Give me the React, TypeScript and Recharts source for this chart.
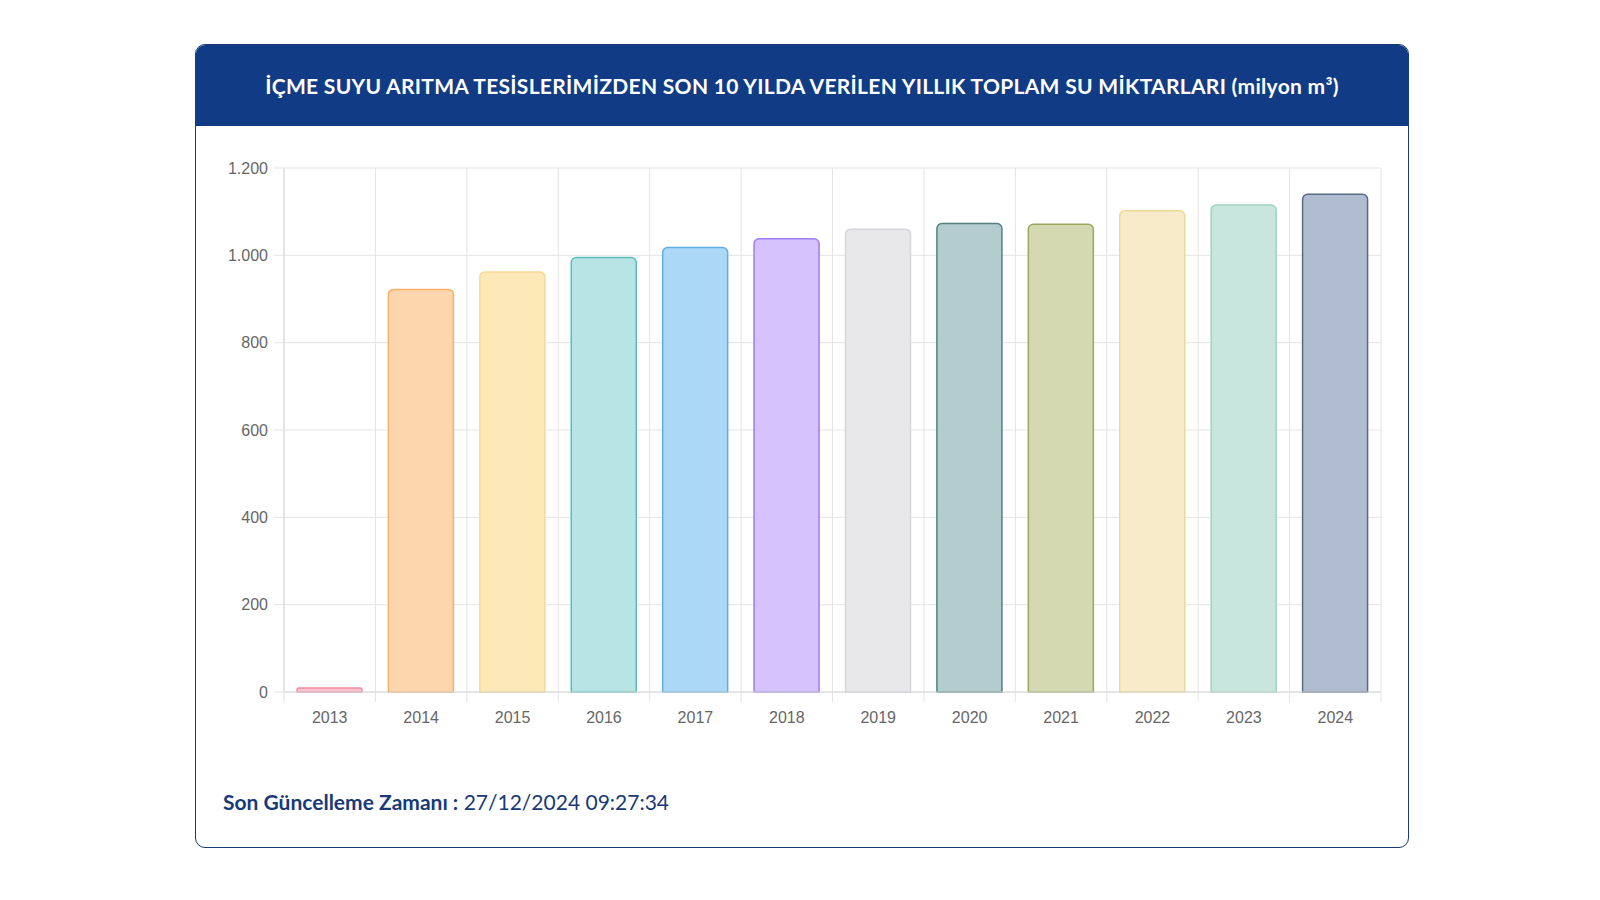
import { Bar, BarChart, CartesianGrid, Cell, XAxis, YAxis } from "recharts";

const YEARS = ["2013", "2014", "2015", "2016", "2017", "2018", "2019", "2020", "2021", "2022", "2023", "2024"];
const WATER = [9, 922, 962, 995, 1018, 1038, 1060, 1073, 1071, 1102, 1115, 1140];
const Y_TICKS = [0, 200, 400, 600, 800, 1000, 1200];
const FILLS = ["#f9c3cf", "#fdd6ad", "#fde8b8", "#b7e5e5", "#acd8f7", "#d6c2fc", "#e8e8ea", "#b3cccf", "#d4d9b1", "#f7ebc9", "#c9e6de", "#b0bdd0"];
const STROKES = ["#f08ca3", "#f5b06e", "#f6d893", "#5dbdbd", "#62acdf", "#a07cee", "#d6d6da", "#52807f", "#9aa85e", "#ecd998", "#9ed3c2", "#5b6b86"];

const TITLE = "İÇME SUYU ARITMA TESİSLERİMİZDEN SON 10 YILDA VERİLEN YILLIK TOPLAM SU MİKTARLARI (milyon m³)";
const UPDATED_LABEL = "Son Güncelleme Zamanı :";
const UPDATED_AT = "27/12/2024 09:27:34";

const data = YEARS.map((year, i) => ({ year, value: WATER[i] }));

const CHART_W = 1212;
const CHART_H = 640;
const MARGIN = { top: 42, right: 27, left: 0, bottom: 34 };
const Y_AXIS_W = 88;
const PLOT_W = CHART_W - MARGIN.left - MARGIN.right - Y_AXIS_W;
const STEP = PLOT_W / YEARS.length;
const GRID = "#e4e4e4";
const NAVY = "#173a78";
const TICK_SIZE = 10;
const TICK_MARGIN = 10;

function thousands(v: number) {
  if (v < 1000) return String(v);
  return `${Math.floor(v / 1000)}.${String(v % 1000).padStart(3, "0")}`;
}

// x tick: label plus a short gridline stub under the axis at the category edge (chart.js offset grid look)
function YearTick(props: any) {
  const { x, y, payload, index } = props;
  const top = y - TICK_SIZE - TICK_MARGIN;
  return (
    <g>
      <line x1={x - STEP / 2} x2={x - STEP / 2} y1={top} y2={top + 10} stroke={GRID} />
      {index === YEARS.length - 1 && (
        <line x1={x + STEP / 2} x2={x + STEP / 2} y1={top} y2={top + 10} stroke={GRID} />
      )}
      <text x={x} y={y} dy="0.71em" textAnchor="middle" fontSize={16} fill="#666" fontFamily="'Liberation Sans', Arial, sans-serif">
        {payload.value}
      </text>
    </g>
  );
}

export default function App() {
  return (
    <div
      style={{
        position: "absolute",
        left: 195,
        top: 44,
        width: 1214,
        height: 804,
        boxSizing: "border-box",
        border: `1px solid ${NAVY}`,
        borderRadius: 10,
        overflow: "hidden",
        background: "#fff",
        fontFamily: "Lato, 'Open Sans', sans-serif",
      }}
    >
      <div
        style={{
          height: 81,
          background: "#113b84",
          color: "#fff",
          fontWeight: 700,
          fontSize: 21,
          letterSpacing: 0.3,
          display: "flex",
          alignItems: "center",
          justifyContent: "center",
        }}
      >
        {TITLE}
      </div>
      <div style={{ position: "absolute", left: 0, top: 81 }}>
        <BarChart width={CHART_W} height={CHART_H} data={data} margin={MARGIN}>
          <CartesianGrid
            stroke={GRID}
            verticalCoordinatesGenerator={({ offset }: any) =>
              YEARS.map((_, i) => offset.left + (i * offset.width) / YEARS.length).concat(offset.left + offset.width)
            }
          />
          <XAxis
            dataKey="year"
            height={40}
            axisLine={{ stroke: "#d8d8d8" }}
            tickLine={false}
            tickSize={TICK_SIZE}
            tickMargin={TICK_MARGIN}
            tick={<YearTick />}
            interval={0}
          />
          <YAxis
            width={Y_AXIS_W}
            domain={[0, 1200]}
            ticks={Y_TICKS}
            tickFormatter={thousands}
            axisLine={{ stroke: "#d8d8d8" }}
            tickLine={{ stroke: GRID }}
            tickSize={10}
            tickMargin={6}
            tick={{ fontSize: 16, fill: "#666", fontFamily: "'Liberation Sans', Arial, sans-serif" }}
          />
          <Bar dataKey="value" barSize={65} radius={[5, 5, 0, 0]} strokeWidth={1.5} isAnimationActive={false}>
            {data.map((d, i) => (
              <Cell key={d.year} fill={FILLS[i]} stroke={STROKES[i]} />
            ))}
          </Bar>
        </BarChart>
      </div>
      <div
        style={{
          position: "absolute",
          left: 27,
          top: 745,
          fontSize: 21,
          color: NAVY,
          lineHeight: "24px",
        }}
      >
        <span style={{ fontWeight: 700 }}>{UPDATED_LABEL}</span> {UPDATED_AT}
      </div>
    </div>
  );
}
